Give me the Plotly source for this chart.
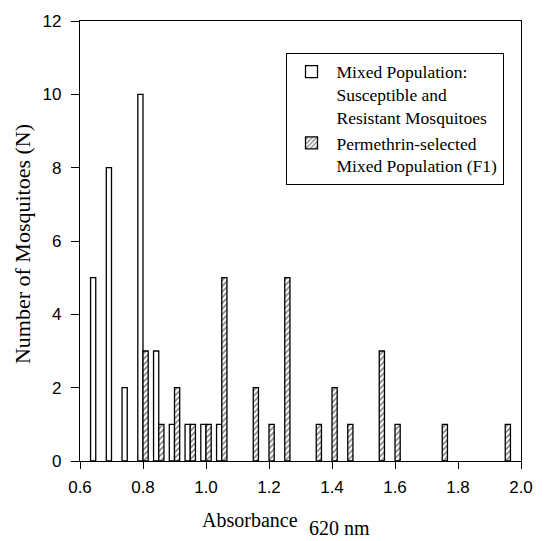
import plotly.graph_objects as go

# Data
mixed_x = [0.65, 0.70, 0.75, 0.80, 0.85, 0.90, 0.95, 1.00, 1.05]
mixed_n = [5, 8, 2, 10, 3, 1, 1, 1, 1]
perm_x = [0.80, 0.85, 0.90, 0.95, 1.00, 1.05, 1.15, 1.20, 1.25, 1.35, 1.40, 1.45, 1.55, 1.60, 1.75, 1.95]
perm_n = [3, 1, 2, 1, 1, 5, 2, 1, 5, 1, 2, 1, 3, 1, 1, 1]
x_ticks = [0.6, 0.8, 1.0, 1.2, 1.4, 1.6, 1.8, 2.0]
y_ticks = [0, 2, 4, 6, 8, 10, 12]

BW = 0.0165
serif = "Liberation Serif, Times New Roman, serif"
sans = "Liberation Sans, Arial, sans-serif"

fig = go.Figure()
fig.add_trace(go.Bar(
    x=mixed_x, y=mixed_n, width=BW, offset=-BW,
    name="Mixed Population:<br>Susceptible and<br>Resistant Mosquitoes",
    marker=dict(color="white", line=dict(color="black", width=1.3)),
))
fig.add_trace(go.Bar(
    x=perm_x, y=perm_n, width=BW, offset=0,
    name="Permethrin-selected<br>Mixed Population (F1)",
    marker=dict(color="white", line=dict(color="black", width=1.3),
                pattern=dict(shape="/", fgcolor="black", bgcolor="white", size=4, solidity=0.4)),
))

fig.update_layout(
    width=545, height=541,
    margin=dict(l=80, r=23, t=17, b=80),
    plot_bgcolor="white", paper_bgcolor="white",
    barmode="overlay",
    showlegend=True,
    legend=dict(
        x=0.466, y=0.928, xanchor="left", yanchor="top",
        bordercolor="black", borderwidth=1, bgcolor="white",
        font=dict(family=serif, size=17.5, color="black"),
        valign="top", tracegroupgap=2, itemwidth=40,
    ),
    xaxis=dict(
        range=[0.6, 2.0], tickvals=x_ticks, ticktext=[f"{v:.1f}" for v in x_ticks],
        showline=True, mirror=True, linecolor="black", linewidth=1.2,
        ticks="outside", ticklen=7, tickcolor="black", showgrid=False, zeroline=False,
        tickfont=dict(family=sans, size=17, color="black"), ticklabelstandoff=3,
    ),
    yaxis=dict(
        range=[0, 12], tickvals=y_ticks,
        showline=True, mirror=True, linecolor="black", linewidth=1.2,
        ticks="outside", ticklen=8, tickcolor="black", showgrid=False, zeroline=False,
        tickfont=dict(family=sans, size=17, color="black"), ticklabelstandoff=6,
    ),
    annotations=[
        dict(text="Absorbance", xref="paper", yref="paper", x=(300 - 80) / 442, y=-(521 - 461) / 444,
             xanchor="right", yanchor="middle", showarrow=False,
             font=dict(family=serif, size=20, color="black")),
        dict(text="620 nm", xref="paper", yref="paper", x=(308 - 80) / 442, y=-(529 - 461) / 444,
             xanchor="left", yanchor="middle", showarrow=False,
             font=dict(family=serif, size=20, color="black")),
        dict(text="Number of Mosquitoes (N)", xref="paper", yref="paper", x=-(80 - 23) / 442, y=(461 - 242) / 444,
             xanchor="center", yanchor="middle", textangle=-90, showarrow=False,
             font=dict(family=serif, size=22, color="black")),
    ],
)

fig.write_html("out.html")
